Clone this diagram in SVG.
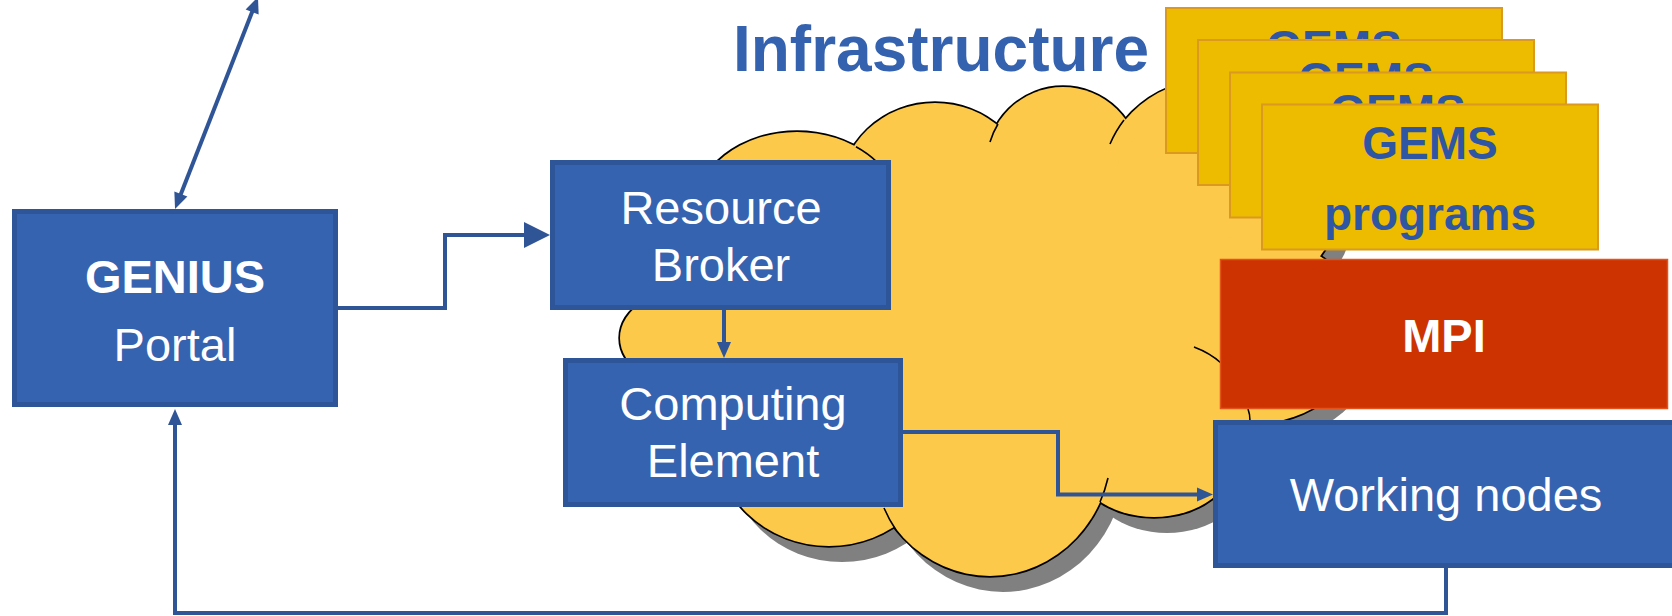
<svg xmlns="http://www.w3.org/2000/svg" width="1672" height="616" viewBox="0 0 1672 616">
<style>
.box{fill:#3563B0;stroke:#2E5597;stroke-width:5}
.gems{fill:#EDBB00;stroke:#D99A1F;stroke-width:2}
.wt{font-family:"Liberation Sans",Arial,sans-serif;font-size:47px;fill:#FFFFFF;text-anchor:middle}
.bt{font-family:"Liberation Sans",Arial,sans-serif;font-size:46px;font-weight:bold;fill:#2F56A3;text-anchor:middle}
.conn{fill:none;stroke:#2F5597;stroke-width:4}
.tail{fill:none;stroke:#000;stroke-width:1.6}
</style>
<defs>
<marker id="ah" markerUnits="userSpaceOnUse" markerWidth="17" markerHeight="14" refX="1" refY="7" orient="auto-start-reverse" overflow="visible">
<path d="M0,0 L16,7 L0,14 z" fill="#2F5597"/>
</marker>
<marker id="ahBig" markerUnits="userSpaceOnUse" markerWidth="26" markerHeight="26" refX="1" refY="13" orient="auto" overflow="visible">
<path d="M0,0 L26,13 L0,26 z" fill="#2F5597"/>
</marker>
<g id="cloudShapes">
<ellipse cx="797" cy="212" rx="102" ry="80"/>
<ellipse cx="935" cy="193" rx="95" ry="90"/>
<ellipse cx="1063" cy="162" rx="76" ry="75"/>
<ellipse cx="1210" cy="190" rx="110" ry="110"/>
<ellipse cx="1225" cy="200" rx="115" ry="100"/>
<ellipse cx="1252" cy="330" rx="110" ry="94"/>
<ellipse cx="1154" cy="455" rx="82" ry="62"/>
<ellipse cx="990" cy="446" rx="122" ry="130"/>
<ellipse cx="829" cy="436" rx="115" ry="110"/>
<ellipse cx="700" cy="338" rx="80" ry="52"/>
<ellipse cx="960" cy="330" rx="260" ry="190"/>
</g>
</defs>

<g id="cloud">
<use href="#cloudShapes" transform="translate(13,16)" fill="#808080"/>
<use href="#cloudShapes" fill="#FDC94B" stroke="#000" stroke-width="3.4"/>
<use href="#cloudShapes" fill="#FDC94B"/>
<path class="tail" d="M856,146.7 A102 80 0 0 1 877,162"/>
<path class="tail" d="M998,124 A76 75 0 0 0 990,142"/>
<path class="tail" d="M1124,120 A110 110 0 0 0 1110,144"/>
<path class="tail" d="M1194,347 Q1210,353 1221,363"/>
<path class="tail" d="M1248,409 Q1250,414 1250,421"/>
<path class="tail" d="M1100,502 A122 130 0 0 0 1108,478"/>
<path class="tail" d="M896,530 A122 130 0 0 1 884,508"/>
</g>

<g id="title">
<text x="941" y="71" font-family="Liberation Sans, Arial, sans-serif" font-size="64" font-weight="bold" fill="#3462AE" text-anchor="middle">Infrastructure</text>
</g>

<g id="connectors">
<line class="conn" x1="180.5" y1="195" x2="252.5" y2="11" marker-start="url(#ah)" marker-end="url(#ah)"/>
<path class="conn" d="M338,308 H445 V235 H525" marker-end="url(#ahBig)"/>
<path class="conn" d="M724,310 V343" marker-end="url(#ah)"/>
<path class="conn" d="M903,432 H1058 V494.5 H1198" marker-end="url(#ah)"/>
<path class="conn" d="M1446,568 V613 H175 V424" marker-end="url(#ah)"/>
</g>

<g id="resource-broker">
<rect class="box" x="552.5" y="162.5" width="336" height="145"/>
<text class="wt" x="721" y="224">Resource</text>
<text class="wt" x="721" y="281">Broker</text>
</g>

<g id="computing-element">
<rect class="box" x="565.5" y="360.5" width="335" height="144"/>
<text class="wt" x="733" y="420">Computing</text>
<text class="wt" x="733" y="477">Element</text>
</g>

<g id="gems-1">
<rect class="gems" x="1166" y="8" width="336" height="145"/>
<text class="bt" x="1334" y="62.5">GEMS</text>
</g>
<g id="gems-2">
<rect class="gems" x="1198" y="40" width="336" height="145"/>
<text class="bt" x="1366" y="94.5">GEMS</text>
</g>
<g id="gems-3">
<rect class="gems" x="1230" y="72.5" width="336" height="145"/>
<text class="bt" x="1398" y="127">GEMS</text>
</g>
<g id="gems-4">
<rect class="gems" x="1262" y="104.5" width="336" height="145"/>
<text class="bt" x="1430" y="159">GEMS</text>
<text class="bt" x="1430" y="230">programs</text>
</g>

<g id="mpi">
<rect x="1220.5" y="259.5" width="447" height="149" fill="#CC3300" stroke="#E4531C" stroke-width="1.5"/>
<text x="1444" y="352" font-family="Liberation Sans, Arial, sans-serif" font-size="47" font-weight="bold" fill="#FFFFFF" text-anchor="middle">MPI</text>
</g>

<g id="working-nodes">
<rect class="box" x="1215.5" y="422.5" width="470" height="143"/>
<text class="wt" x="1446" y="511">Working nodes</text>
</g>

<g id="genius-portal">
<rect class="box" x="14.5" y="211.5" width="321" height="193"/>
<text class="wt" x="175" y="293" font-weight="bold">GENIUS</text>
<text class="wt" x="175" y="361">Portal</text>
</g>
</svg>
